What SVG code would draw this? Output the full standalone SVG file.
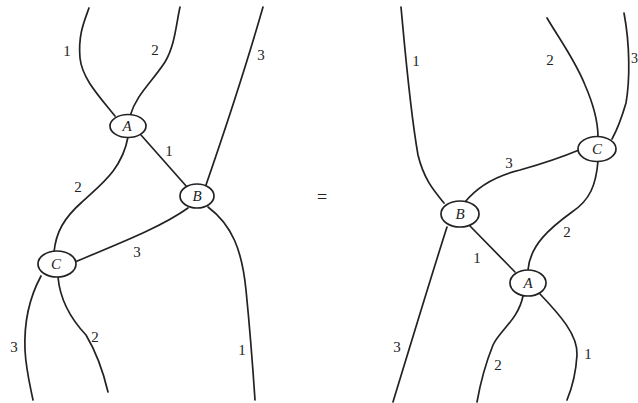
<svg xmlns="http://www.w3.org/2000/svg" width="638" height="403" viewBox="0 0 638 403">
<style>
.s{fill:none;stroke:#222;stroke-width:1.7;stroke-linecap:round}
.n{fill:#fff;stroke:#222;stroke-width:1.7}
.l{font-family:"Liberation Serif",serif;font-size:15px;fill:#222;text-anchor:middle}
.t{font-family:"Liberation Serif",serif;font-size:15px;font-style:italic;fill:#222;text-anchor:middle}
</style>
<rect width="638" height="403" fill="#fff"/>
<g id="connectors">
<!-- left -->
<path class="s" d="M89,8 C84,22 78,35 80,58 C82,78 98,95 115,116"/>
<path class="s" d="M180,7 C176,25 175,45 165,62 C152,82 136,95 130,116"/>
<path class="s" d="M263,7 C245,70 225,130 206,185"/>
<path class="s" d="M141,135 L187,187"/>
<path class="s" d="M128,137 C122,170 100,185 82,202 C64,218 56,232 54,252"/>
<path class="s" d="M188,208 C160,228 115,245 75,262"/>
<path class="s" d="M208,207 C232,225 242,250 246,290 C250,330 253,370 255,400"/>
<path class="s" d="M41,276 C28,300 24,325 25,350 C26,370 30,385 33,400"/>
<path class="s" d="M58,277 C60,300 70,318 86,335 C98,355 104,375 108,392"/>
<!-- right -->
<path class="s" d="M401,7 C405,50 410,110 418,155 C424,180 435,192 444,203"/>
<path class="s" d="M547,18 C560,40 575,60 585,85 C595,108 598,125 598,137"/>
<path class="s" d="M624,13 C630,45 630,80 626,103 C621,120 617,130 612,139"/>
<path class="s" d="M465,202 C478,186 495,176 520,170 C545,163 560,158 579,150"/>
<path class="s" d="M598,161 C596,185 590,200 572,212 C550,228 530,245 528,270"/>
<path class="s" d="M470,226 L515,272"/>
<path class="s" d="M447,227 C430,280 412,340 393,402"/>
<path class="s" d="M523,296 C518,320 500,330 493,345 C485,365 480,385 477,402"/>
<path class="s" d="M540,294 C560,315 578,335 577,355 C576,372 572,388 567,400"/>
</g>
<g id="nodeA_left"><ellipse class="n" cx="128" cy="126" rx="18" ry="11.5"/><text class="t" x="127" y="131">A</text></g>
<g id="nodeB_left"><ellipse class="n" cx="197" cy="196" rx="17" ry="12"/><text class="t" x="197" y="201">B</text></g>
<g id="nodeC_left"><ellipse class="n" cx="57" cy="264" rx="19" ry="13"/><text class="t" x="56" y="269">C</text></g>
<g id="nodeC_right"><ellipse class="n" cx="597" cy="149" rx="19" ry="12.5"/><text class="t" x="597" y="154">C</text></g>
<g id="nodeB_right"><ellipse class="n" cx="460" cy="214" rx="19" ry="13"/><text class="t" x="460" y="219">B</text></g>
<g id="nodeA_right"><ellipse class="n" cx="528" cy="283" rx="18" ry="13"/><text class="t" x="528" y="288">A</text></g>
<g id="labels">
<text class="l" x="67" y="56">1</text>
<text class="l" x="155" y="55">2</text>
<text class="l" x="261" y="60">3</text>
<text class="l" x="169" y="156">1</text>
<text class="l" x="78" y="192">2</text>
<text class="l" x="137" y="257">3</text>
<text class="l" x="14" y="352">3</text>
<text class="l" x="95" y="342">2</text>
<text class="l" x="242" y="355">1</text>
<text class="l" x="322" y="203" style="font-size:18px">=</text>
<text class="l" x="416" y="66">1</text>
<text class="l" x="550" y="65">2</text>
<text class="l" x="631" y="63" style="text-anchor:start;font-size:14px">3</text>
<text class="l" x="509" y="168">3</text>
<text class="l" x="567" y="237">2</text>
<text class="l" x="477" y="263">1</text>
<text class="l" x="397" y="352">3</text>
<text class="l" x="498" y="370">2</text>
<text class="l" x="588" y="359">1</text>
</g>
</svg>
